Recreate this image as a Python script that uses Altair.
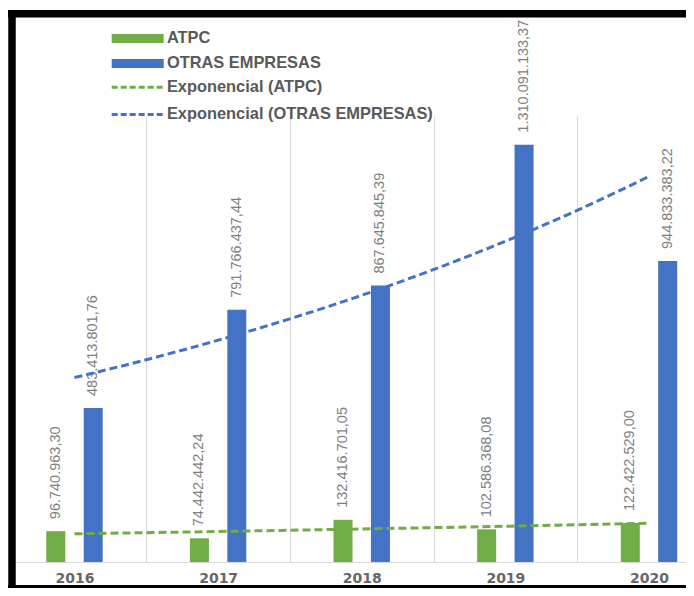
import altair as alt
import pandas as pd

# ---- data ----
years = ["2016", "2017", "2018", "2019", "2020"]
atpc = [96740963.30, 74442442.24, 132416701.05, 102586368.08, 122422529.00]
otras = [483413801.76, 791766437.44, 867645845.39, 1310091133.37, 944833383.22]
series_names = ["ATPC", "OTRAS EMPRESAS"]
trend_names = ["Exponencial (ATPC)", "Exponencial (OTRAS EMPRESAS)"]
colors = ["#70ad47", "#4472c4"]


def fmt_es(v):
    s = f"{v:,.2f}"
    return s.replace(",", "X").replace(".", ",").replace("X", ".")


rows = []
for s, vals in zip(series_names, [atpc, otras]):
    for y, v in zip(years, vals):
        rows.append({"year": y, "yearnum": int(y), "series": s, "value": v, "label": fmt_es(v)})
df = pd.DataFrame(rows)

# ---- layout ----
W = 678
H = 446
PAD_TOP = 108
PAD_BOTTOM = 26
X_RANGE = [-5.3, 712.8]
Y_SCALE = alt.Scale(domain=[0, 1.4e9], nice=False, zero=True)

x_band = alt.X(
    "year:N",
    scale=alt.Scale(range=X_RANGE, paddingInner=0, paddingOuter=0),
    axis=alt.Axis(
        title=None, tickBand="extent", grid=True, gridColor="#d9d9d9", gridWidth=1,
        ticks=False, domain=True, domainColor="#d9d9d9", domainWidth=1,
        labelFont="DejaVu Sans", labelFontWeight="bold", labelFontSize=14,
        labelColor="#666666", labelPadding=9.5, labelAngle=0,
    ),
)
x_off = alt.XOffset("series:N", scale=alt.Scale(domain=series_names, paddingInner=0.492, paddingOuter=0, range=[43.6, 100.0]))

legend_common = dict(
    title=None, orient="none", legendX=100, padding=0, offset=0, direction="vertical",
    symbolSize=81, symbolOffset=21.5, labelOffset=21, labelLimit=400,
    labelFont="Liberation Sans", labelFontSize=16.4, labelFontWeight="bold",
    labelColor="#595959", labelBaseline="middle",
)

bars = alt.Chart(df).mark_bar().encode(
    x=x_band,
    xOffset=x_off,
    y=alt.Y("value:Q", scale=Y_SCALE, axis=None),
    color=alt.Color(
        "series:N",
        scale=alt.Scale(domain=series_names, range=colors),
        legend=alt.Legend(
            legendY=-85.8, rowPadding=8.1,
            symbolType="M-5.78,-1H5.78V1H-5.78Z", symbolStrokeWidth=0,
            **legend_common,
        ),
    ),
)

labels = alt.Chart(df).mark_text(
    angle=270, align="left", baseline="middle", dx=12, fontSize=14.5,
    font="Liberation Sans", color="#7f7f7f",
).encode(
    x=x_band,
    xOffset=x_off,
    y=alt.Y("value:Q", scale=Y_SCALE, axis=None),
    text="label:N",
)

trend = alt.Chart(df).transform_calculate(
    lnv="log(datum.value)"
).transform_regression(
    "yearnum", "lnv", method="poly", order=1, groupby=["series"]
).transform_calculate(
    fit="exp(datum.lnv)",
    trend="'Exponencial (' + datum.series + ')'",
).mark_line(strokeDash=[8, 4], strokeWidth=3).encode(
    x=alt.X("yearnum:Q", scale=alt.Scale(domain=[2015.5, 2020.5], range=X_RANGE, nice=False, zero=False), axis=None),
    y=alt.Y("fit:Q", scale=Y_SCALE, axis=None),
    stroke=alt.Stroke(
        "trend:N",
        scale=alt.Scale(domain=trend_names, range=colors),
        legend=alt.Legend(
            legendY=-36.9, rowPadding=10.1,
            symbolType="M-5.78,0H5.78", symbolStrokeWidth=3,
            symbolDash=[6, 3], **legend_common,
        ),
    ),
)

one = pd.DataFrame({"k": [0]})
frame_top = alt.Chart(one).mark_rule(color="black", strokeWidth=7.5).encode(
    x=alt.value(0), x2=alt.value(W), y=alt.value(-102.25)
)
frame_left = alt.Chart(one).mark_rule(color="black", strokeWidth=7.5).encode(
    x=alt.value(4), y=alt.value(-106), y2=alt.value(H + PAD_BOTTOM)
)
frame_bottom = alt.Chart(one).mark_rule(color="black", strokeWidth=3).encode(
    x=alt.value(0), x2=alt.value(W), y=alt.value(H + PAD_BOTTOM - 1.5)
)

chart = alt.layer(
    alt.layer(bars, labels), trend, frame_top, frame_left, frame_bottom
).resolve_scale(
    x="independent"
).properties(
    width=W, height=H,
    padding={"left": 0, "top": PAD_TOP, "right": 0, "bottom": PAD_BOTTOM},
    autosize="none",
).configure_view(stroke="transparent")

chart.save("out.html", embed_options={"renderer": "svg", "actions": False})
